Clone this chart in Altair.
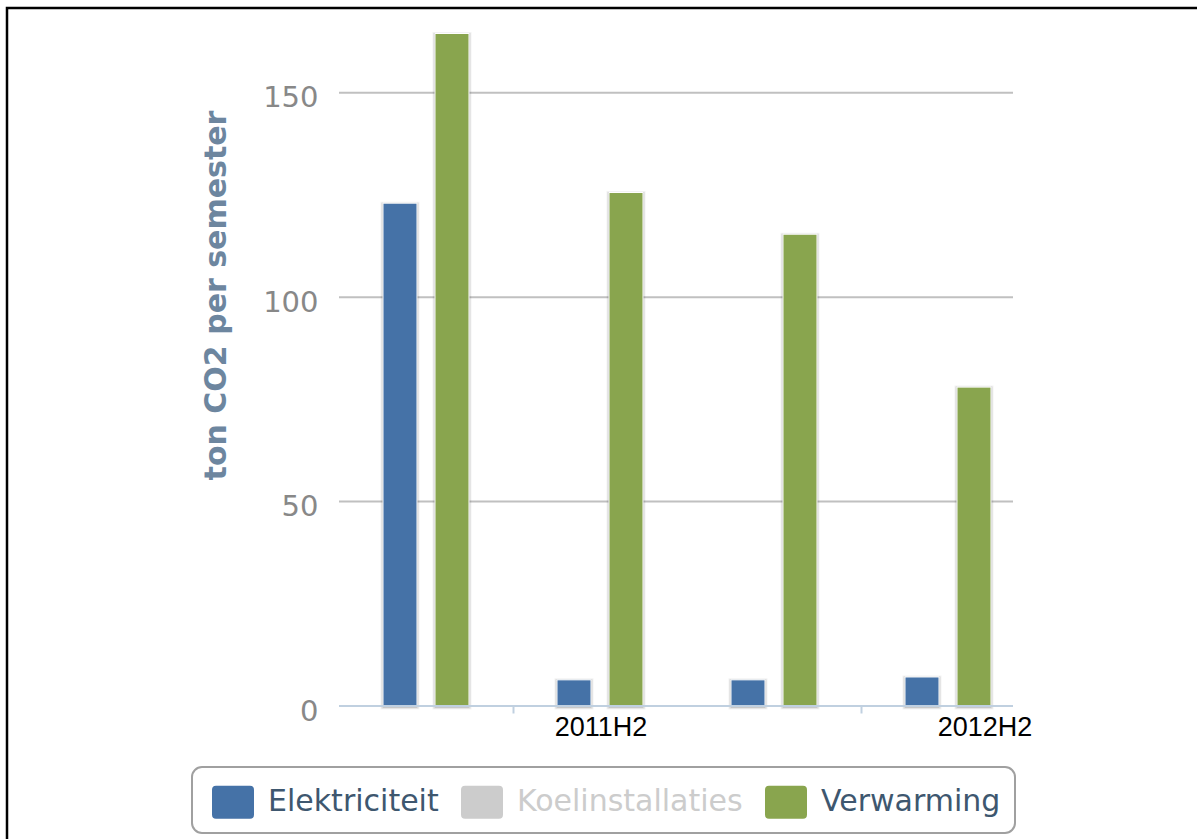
import altair as alt
import pandas as pd

# ---- data ----
categories = ["2011H1", "2011H2", "2012H1", "2012H2"]
series_names = ["Elektriciteit", "Koelinstallaties", "Verwarming"]
series_colors = ["#4572A7", "#CCCCCC", "#89A54E"]
visible_series = ["Elektriciteit", "Verwarming"]  # Koelinstallaties is switched off
elektriciteit = [123.0, 6.4, 6.4, 7.1]
verwarming = [164.5, 125.6, 115.4, 78.0]
y_ticks = [0, 50, 100, 150]
x_labels = ["2011H2", "2012H2"]

rows = []
for c, v in zip(categories, elektriciteit):
    rows.append({"cat": c, "series": "Elektriciteit", "value": v})
for c, v in zip(categories, verwarming):
    rows.append({"cat": c, "series": "Verwarming", "value": v})
df = pd.DataFrame(rows)
grid_df = pd.DataFrame({"value": y_ticks})
base_df = pd.DataFrame({"value": [0]})

W, H = 674, 695
STEP = 174
PAD = {"left": 339, "top": 11, "right": 1197 - 339 - W, "bottom": 839 - 11 - H}

x_enc = alt.X(
    "cat:N",
    sort=categories,
    title=None,
    scale=alt.Scale(domain=categories, paddingInner=0, paddingOuter=0,
                    range=[0, STEP * len(categories)]),
    axis=alt.Axis(
        values=x_labels, bandPosition=0, grid=False, domain=False,
        tickColor="#C0D0E0", tickWidth=2, tickSize=7,
        labelFont="Liberation Sans", labelFontSize=27, labelColor="#000000",
        labelAngle=0, labelPadding=1, labelAlign="center",
        labelOffset={"condition": {"test": "datum.value === '2012H2'", "value": 37}, "value": 1},
    ),
)
xoff_enc = alt.XOffset(
    "series:N", sort=visible_series,
    scale=alt.Scale(domain=visible_series, paddingInner=0.346, paddingOuter=0.846),
)
y_enc = alt.Y(
    "value:Q",
    scale=alt.Scale(domain=[0, 170], nice=False, zero=True),
    axis=alt.Axis(
        values=y_ticks, title="ton CO2 per semester",
        grid=False, domain=False, ticks=False,
        labelFont="DejaVu Sans", labelFontSize=29, labelColor="#888888",
        labelPadding=21, labelOffset=5,
        titleFont="DejaVu Sans", titleFontSize=30, titleFontWeight="bold",
        titleColor="#6D869F", titleAngle=270, titleAlign="center",
        titleBaseline="alphabetic", titleX=-114, titleY=284,
    ),
)

symbol_path = ("M-1,-0.6Q-1,-0.786 -0.81,-0.786L0.81,-0.786Q1,-0.786 1,-0.6"
               "L1,0.6Q1,0.786 0.81,0.786L-0.81,0.786Q-1,0.786 -1,0.6Z")

color_enc = alt.Color(
    "series:N", title=None,
    scale=alt.Scale(domain=series_names, range=series_colors),
    legend=alt.Legend(
        orient="none", legendX=-147, legendY=756, direction="horizontal",
        symbolType=symbol_path, symbolSize=1764, symbolStrokeWidth=0, symbolOpacity=1,
        symbolOffset=6,
        labelFont="DejaVu Sans", labelFontSize=30,
        labelColor=alt.ExprRef("datum.label === 'Koelinstallaties' ? '#CCCCCC' : '#3E576F'"),
        labelLimit=400, labelOffset=14, columnPadding=16, padding=14,
        strokeColor="#A0A0A0", cornerRadius=10, fillColor="#FFFFFF",
    ),
)

# horizontal grid lines and the x-axis base line (span the visible plot width)
grid = alt.Chart(grid_df).mark_rule(color="#C0C0C0", strokeWidth=2).encode(
    y=y_enc, x=alt.value(0), x2=alt.value(W)
)
baseline = alt.Chart(base_df).mark_rule(color="#C0D0E0", strokeWidth=2).encode(
    y=y_enc, x=alt.value(0), x2=alt.value(W)
)

base = alt.Chart(df).encode(x=x_enc, xOffset=xoff_enc, y=y_enc)

shadows = [
    base.mark_bar(fillOpacity=0, stroke="black", strokeOpacity=o, strokeWidth=w,
                  yOffset=1, y2Offset=1)
    for w, o in [(5, 0.05), (3, 0.1), (1, 0.15)]
]
bars = base.mark_bar(stroke="white", strokeWidth=1).encode(color=color_enc)

frame = alt.Chart(pd.DataFrame({"f": [0]})).mark_rect(
    fillOpacity=0, stroke="black", strokeWidth=2.5
).encode(x=alt.value(-332), x2=alt.value(1400), y=alt.value(-3), y2=alt.value(1400))

chart = alt.layer(frame, grid, *shadows, bars, baseline).properties(
    width=W, height=H,
    autosize=alt.AutoSizeParams(type="none"),
    padding=PAD,
    background="white",
).configure_view(strokeWidth=0).configure_legend(strokeWidth=2)

chart.save("out.html", embed_options={"renderer": "svg", "actions": False})
